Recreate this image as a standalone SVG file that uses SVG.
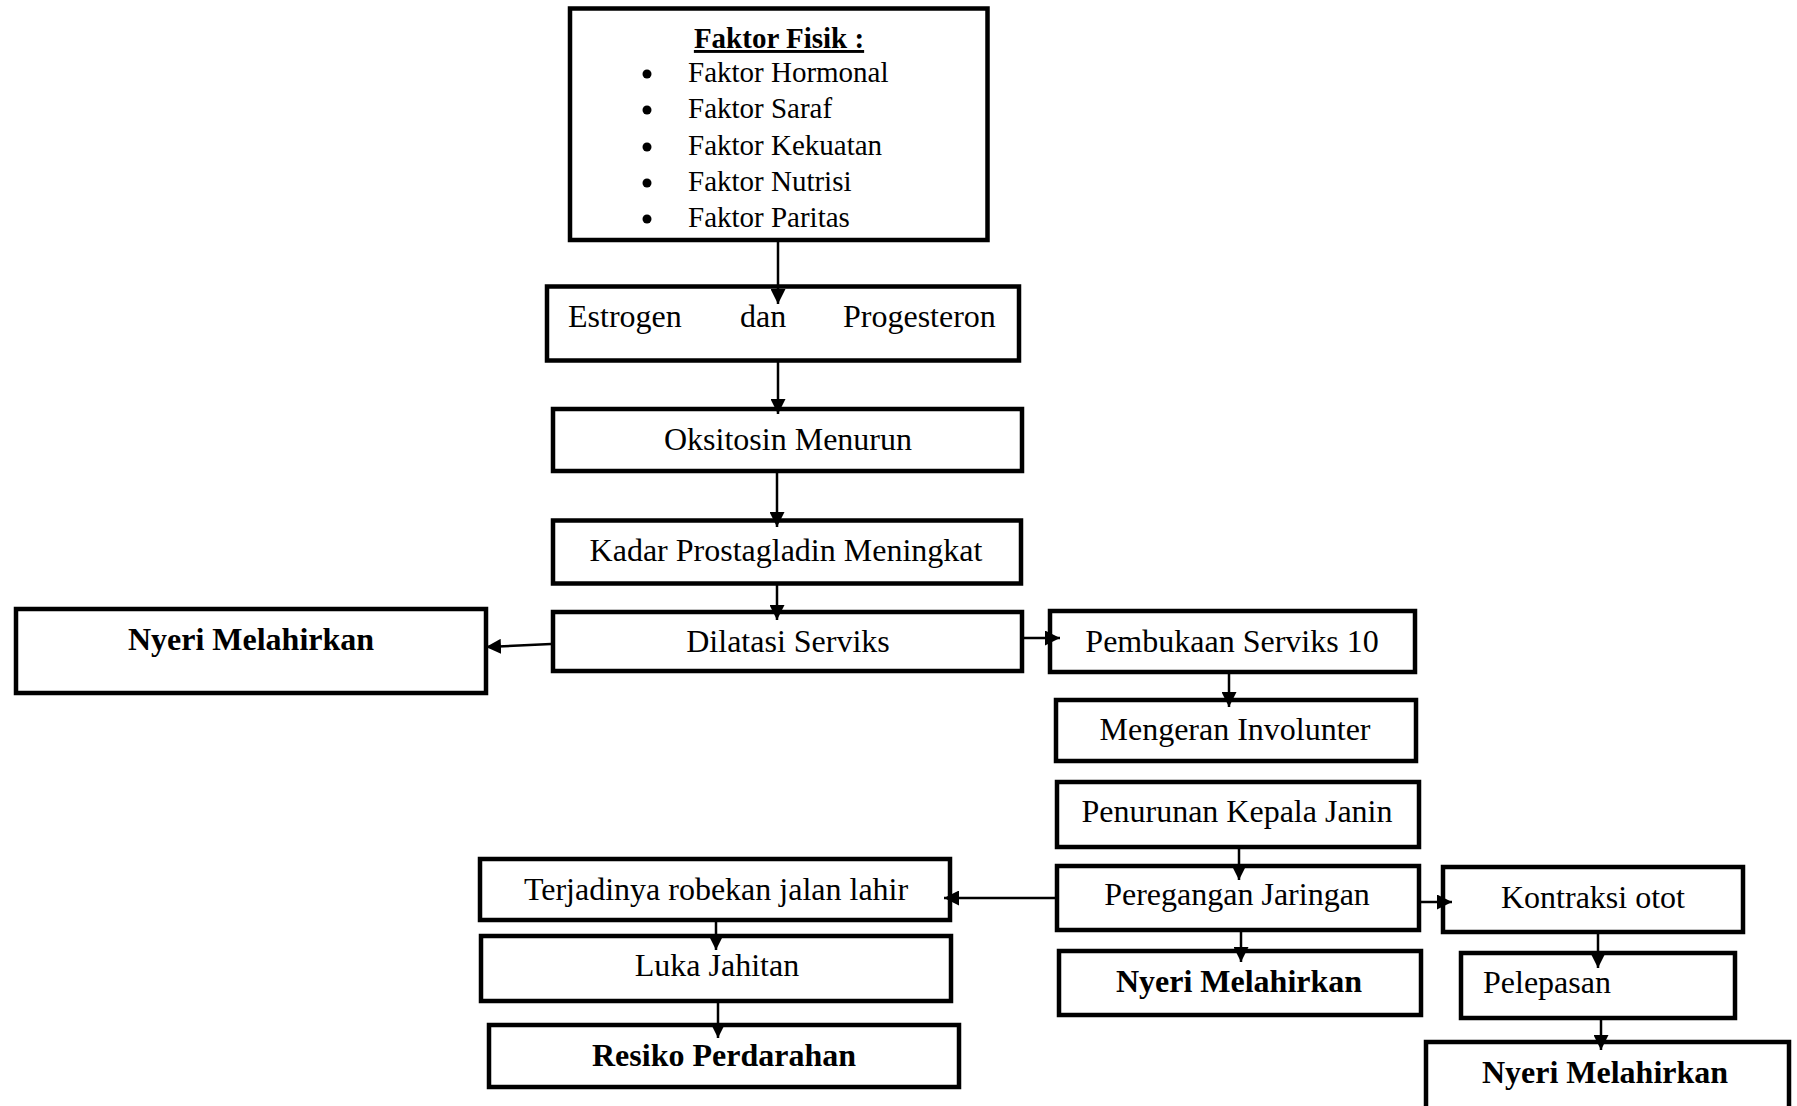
<svg xmlns="http://www.w3.org/2000/svg" width="1797" height="1106" viewBox="0 0 1797 1106">
<style>
.box{fill:#fff;stroke:#000;stroke-width:4.5}
.t{font-family:"Liberation Serif","Times New Roman",serif;font-size:32px;fill:#000}
.c{text-anchor:middle}
.b{font-weight:bold}
.li{font-family:"Liberation Serif","Times New Roman",serif;font-size:29px;fill:#000}
.con line{stroke:#000;stroke-width:2.5;marker-end:url(#ah)}
</style>
<defs>
<marker id="ah" markerUnits="userSpaceOnUse" markerWidth="15" markerHeight="15" viewBox="0 0 15 15" refX="15" refY="7.5" orient="auto">
<path d="M0,0 L15,7.5 L0,15 z" fill="#000"/>
</marker>
</defs>
<rect width="1797" height="1106" fill="#fff"/>
<g id="faktor">
<rect class="box" x="570" y="8.5" width="417.5" height="231.5"/>
<text class="li b c" x="779" y="48" text-decoration="underline">Faktor Fisik :</text>
<circle cx="647" cy="74" r="4.5"/><text class="li" x="688" y="82">Faktor Hormonal</text>
<circle cx="647" cy="110" r="4.5"/><text class="li" x="688" y="118">Faktor Saraf</text>
<circle cx="647" cy="147" r="4.5"/><text class="li" x="688" y="155">Faktor Kekuatan</text>
<circle cx="647" cy="183" r="4.5"/><text class="li" x="688" y="191">Faktor Nutrisi</text>
<circle cx="647" cy="219" r="4.5"/><text class="li" x="688" y="227">Faktor Paritas</text>
</g>
<g id="estrogen">
<rect class="box" x="547" y="286.5" width="472" height="74"/>
<text class="t" y="327"><tspan x="568">Estrogen</tspan><tspan x="740">dan</tspan><tspan x="843">Progesteron</tspan></text>
</g>
<g id="oksitosin">
<rect class="box" x="553" y="409" width="469" height="62"/>
<text class="t c" x="788" y="450">Oksitosin Menurun</text>
</g>
<g id="kadar">
<rect class="box" x="553" y="520.5" width="468" height="63"/>
<text class="t c" x="786" y="561">Kadar Prostagladin Meningkat</text>
</g>
<g id="dilatasi">
<rect class="box" x="553" y="612" width="469" height="59"/>
<text class="t c" x="788" y="652">Dilatasi Serviks</text>
</g>
<g id="nyeri1">
<rect class="box" x="16" y="609" width="470" height="84"/>
<text class="t c b" x="251" y="650">Nyeri Melahirkan</text>
</g>
<g id="pembukaan">
<rect class="box" x="1050" y="611" width="365" height="61"/>
<text class="t c" x="1232" y="652">Pembukaan Serviks 10</text>
</g>
<g id="mengeran">
<rect class="box" x="1056" y="700" width="360" height="61"/>
<text class="t c" x="1235" y="740">Mengeran Involunter</text>
</g>
<g id="penurunan">
<rect class="box" x="1057" y="782" width="362" height="65"/>
<text class="t c" x="1237" y="822">Penurunan Kepala Janin</text>
</g>
<g id="peregangan">
<rect class="box" x="1057" y="866" width="362" height="64"/>
<text class="t c" x="1237" y="905">Peregangan Jaringan</text>
</g>
<g id="nyeri2">
<rect class="box" x="1059" y="951" width="362" height="64"/>
<text class="t c b" x="1239" y="992">Nyeri Melahirkan</text>
</g>
<g id="kontraksi">
<rect class="box" x="1443" y="867" width="300" height="65"/>
<text class="t c" x="1593" y="908">Kontraksi otot</text>
</g>
<g id="pelepasan">
<rect class="box" x="1461" y="953" width="274" height="65"/>
<text class="t" x="1483" y="993">Pelepasan</text>
</g>
<g id="nyeri3">
<rect class="box" x="1426" y="1042" width="363" height="82"/>
<text class="t c b" x="1605" y="1083">Nyeri Melahirkan</text>
</g>
<g id="terjadinya">
<rect class="box" x="480" y="859" width="470" height="61"/>
<text class="t c" x="716" y="900">Terjadinya robekan jalan lahir</text>
</g>
<g id="luka">
<rect class="box" x="481" y="936" width="470" height="65"/>
<text class="t c" x="717" y="976">Luka Jahitan</text>
</g>
<g id="resiko">
<rect class="box" x="489" y="1025" width="470" height="62"/>
<text class="t c b" x="724" y="1066">Resiko Perdarahan</text>
</g>
<g id="connectors" class="con">
<line x1="778" y1="240" x2="778" y2="304"/>
<line x1="778" y1="361" x2="778" y2="414"/>
<line x1="777" y1="471" x2="777" y2="527"/>
<line x1="777" y1="583" x2="777" y2="620"/>
<line x1="551" y1="644" x2="486" y2="647"/>
<line x1="1024" y1="638" x2="1060" y2="638"/>
<line x1="1229" y1="672" x2="1229" y2="707"/>
<line x1="1239" y1="847" x2="1239" y2="880"/>
<line x1="1241" y1="930" x2="1241" y2="962"/>
<line x1="1421" y1="902" x2="1452" y2="902"/>
<line x1="1598" y1="932" x2="1598" y2="968"/>
<line x1="1601" y1="1018" x2="1601" y2="1050"/>
<line x1="1057" y1="898" x2="944" y2="898"/>
<line x1="716" y1="920" x2="716" y2="950"/>
<line x1="718" y1="1001" x2="718" y2="1038"/>
</g>
</svg>
